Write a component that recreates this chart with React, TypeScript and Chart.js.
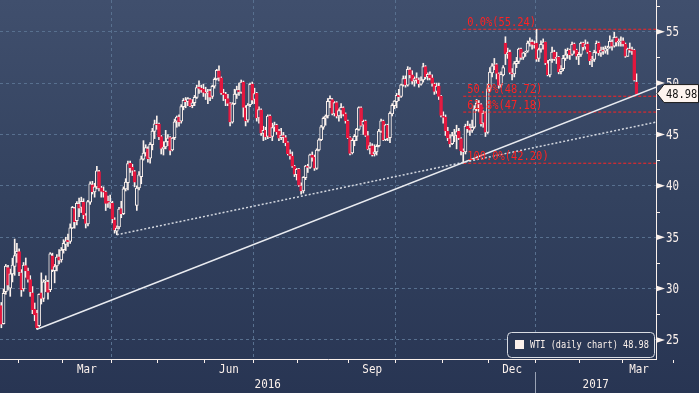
import React, { useEffect, useRef } from 'react';
import { Chart, registerables } from 'chart.js';
Chart.register(...registerables);

// Daily WTI candles, trading day index 0 = 20 Jan 2016 ... 286 = 9 Mar 2017
const openPx = [
  28.35,26.60,29.70,32.05,30.05,31.43,32.15,33.36,33.60,31.54,
  29.96,32.23,31.70,30.89,29.60,28.00,27.60,26.40,29.60,29.05,
  30.74,30.60,29.90,33.20,31.75,32.20,33.10,32.80,33.80,34.30,
  34.70,34.60,35.90,37.80,36.60,38.20,37.90,38.40,37.10,36.30,
  38.40,40.10,39.40,39.90,41.40,39.80,39.50,39.40,38.50,38.30,
  38.30,36.70,35.60,36.00,37.80,37.30,39.70,40.30,42.20,41.80,
  41.40,38.10,39.80,40.90,42.60,43.20,43.60,42.70,44.00,45.30,
  46.00,46.00,44.80,43.60,43.80,44.30,44.70,43.50,44.70,46.30,
  46.70,46.30,47.70,48.30,48.20,48.40,47.80,48.10,48.60,49.60,
  49.50,49.40,49.10,49.00,49.20,48.70,49.70,50.40,51.20,50.50,
  49.00,48.90,48.50,48.00,46.20,48.00,48.90,49.30,49.10,50.10,
  47.60,46.40,47.90,49.90,48.40,49.00,46.60,47.40,45.10,45.40,
  44.80,46.80,44.80,45.70,45.90,45.30,44.70,44.90,44.70,44.20,
  43.10,42.90,41.90,41.10,41.60,40.00,39.50,40.80,41.90,41.80,
  43.00,42.80,41.70,43.50,44.50,45.70,46.60,46.80,48.20,48.40,
  47.00,48.10,46.80,47.30,47.60,47.00,46.30,44.70,43.20,44.40,
  44.80,45.50,47.60,45.90,46.30,44.90,43.60,43.90,43.10,43.30,
  43.90,45.30,46.30,44.50,45.90,44.70,47.00,47.80,48.20,48.80,
  48.70,49.80,50.40,49.80,51.30,50.80,50.20,50.40,50.30,49.90,
  50.30,51.60,50.60,50.80,50.50,49.90,49.20,49.70,48.70,46.80,
  46.70,45.30,44.60,44.10,44.90,44.90,45.30,44.60,43.40,43.30,
  45.80,45.60,45.40,45.70,47.50,48.00,47.90,46.10,47.10,45.20,
  49.50,51.00,51.70,51.80,50.90,49.80,50.80,53.90,52.80,53.00,
  51.00,50.90,51.90,52.10,53.30,52.50,52.90,53.10,53.90,54.00,
  53.80,53.90,52.40,53.30,53.70,54.00,51.90,50.80,52.30,53.00,
  52.40,52.50,51.10,51.40,52.40,52.80,53.20,52.80,53.80,53.20,
  52.60,52.80,53.90,53.50,53.80,53.00,52.20,52.30,53.00,53.90,
  52.90,53.20,53.10,53.30,53.50,54.00,53.60,54.40,54.00,54.00,
  54.10,53.80,52.60,53.30,53.20,53.20,50.10,
];
const highPx = [
  28.65,29.97,32.35,32.27,31.90,32.96,34.82,34.40,33.86,31.85,
  32.54,32.98,32.00,31.26,30.20,28.60,27.89,29.50,31.53,30.86,
  31.25,30.80,33.50,33.45,32.35,33.30,33.80,34.00,34.76,35.00,
  35.30,36.30,38.00,37.90,38.48,38.80,38.90,38.75,37.30,38.60,
  40.40,40.44,40.25,41.90,41.50,39.96,39.90,39.50,39.00,39.10,
  38.50,36.90,36.10,37.90,38.50,39.90,40.70,42.40,42.40,42.10,
  41.50,40.00,41.40,42.90,44.40,44.00,43.80,44.20,45.60,46.40,
  46.80,46.10,44.90,44.30,45.40,45.00,44.80,44.70,46.50,46.80,
  46.90,47.90,48.50,48.60,48.60,48.50,48.40,48.80,49.80,50.21,
  49.80,49.90,49.60,49.40,49.40,49.80,50.50,51.34,51.67,50.60,
  49.40,49.10,48.90,48.10,48.10,49.40,49.70,50.00,50.30,50.20,
  47.80,48.00,50.00,50.10,49.50,49.10,47.70,47.50,45.80,45.70,
  46.90,46.90,46.10,46.20,46.00,45.50,45.60,45.20,44.90,44.30,
  43.50,43.30,42.00,41.70,41.70,40.30,40.90,42.00,42.10,43.10,
  43.30,43.00,43.60,44.60,45.90,46.70,46.90,48.50,48.75,48.50,
  48.20,48.20,47.50,48.00,47.70,47.10,46.40,44.80,44.60,45.00,
  45.60,47.70,47.70,46.40,46.40,45.30,44.20,44.10,44.00,44.00,
  45.50,46.50,46.40,46.00,46.00,47.20,48.00,48.30,49.00,49.40,
  49.90,50.70,50.70,51.60,51.50,51.20,50.60,51.00,50.50,50.60,
  51.93,51.70,51.00,51.10,50.80,50.00,50.00,50.00,48.80,47.20,
  46.90,45.70,45.00,45.20,45.50,45.90,45.60,44.70,43.60,46.00,
  46.30,46.00,46.40,47.80,48.40,48.30,48.00,47.30,47.20,49.90,
  51.50,51.90,52.40,51.90,51.00,51.10,51.70,54.51,53.40,53.20,
  51.40,52.10,52.50,53.40,53.40,53.00,53.10,54.10,54.40,54.20,
  54.10,55.24,53.40,54.10,54.30,54.00,52.20,52.30,53.50,53.20,
  53.00,52.60,51.70,52.70,53.30,53.40,53.30,54.00,53.90,53.30,
  53.00,54.00,54.00,54.20,54.00,53.10,52.60,53.20,54.10,54.00,
  53.50,53.50,53.60,53.60,54.60,54.20,54.94,54.50,54.30,54.50,
  54.40,53.90,53.40,53.90,53.50,53.30,50.90,
];
const lowPx = [
  26.19,26.55,29.45,29.85,29.25,30.65,31.30,32.55,31.26,29.25,
  29.75,31.10,30.62,29.25,27.56,26.87,26.05,26.30,28.50,28.74,
  29.71,28.98,29.70,31.65,30.56,31.71,32.40,32.57,33.45,33.71,
  34.10,34.40,35.85,35.88,36.20,37.00,37.40,36.80,35.90,36.10,
  38.20,39.21,38.90,39.70,39.50,38.90,38.90,37.60,37.90,37.80,
  36.40,35.40,35.24,35.80,36.90,37.20,39.50,39.60,41.30,41.00,
  39.90,37.61,39.60,40.20,42.50,42.90,42.30,42.20,43.50,44.60,
  45.50,44.50,43.10,43.00,43.60,43.90,43.00,43.40,44.50,45.70,
  45.80,46.10,47.40,47.60,47.80,47.70,47.60,47.80,48.50,49.00,
  49.10,48.70,48.40,48.00,48.30,48.50,49.50,50.30,50.20,48.90,
  48.30,47.80,47.80,45.83,46.10,47.90,48.50,48.80,49.00,46.70,
  45.83,46.20,47.70,48.00,48.00,46.30,46.10,44.90,44.40,44.50,
  44.60,44.70,44.40,45.30,45.00,44.40,44.50,44.20,43.90,43.00,
  42.60,41.80,40.90,40.57,39.95,39.19,39.30,40.60,41.30,41.70,
  42.40,41.50,41.60,43.40,44.40,45.50,45.90,46.60,47.60,46.90,
  46.80,46.60,46.30,46.60,46.80,46.10,44.60,43.00,43.10,43.90,
  44.40,45.40,45.80,45.00,44.80,43.50,43.10,42.90,42.90,43.00,
  43.80,45.20,44.40,44.40,44.40,44.20,46.80,47.50,47.60,48.30,
  48.60,49.70,49.60,49.70,50.50,49.90,49.70,50.00,49.60,49.80,
  50.10,50.40,50.30,50.30,49.70,48.90,49.00,48.40,46.70,46.10,
  44.90,44.40,43.80,44.00,44.30,43.60,44.50,43.00,42.20,43.10,
  45.20,44.90,45.20,45.60,47.30,47.20,45.80,45.70,44.80,45.10,
  49.20,50.60,51.30,50.40,49.50,49.60,50.70,51.80,52.40,50.90,
  50.30,50.60,51.50,51.90,52.30,52.30,52.60,53.00,53.60,53.30,
  53.40,52.11,52.10,53.00,53.30,51.80,50.70,50.60,52.00,52.20,
  51.90,50.90,50.90,51.20,52.20,52.40,52.30,52.70,52.90,52.30,
  51.80,52.60,53.20,53.30,52.90,51.80,51.60,52.10,52.90,52.70,
  52.60,52.80,52.90,52.80,53.40,53.20,53.50,53.60,53.60,53.60,
  53.60,52.50,52.60,53.00,52.80,50.20,48.98,
];
const closePx = [
  26.55,29.53,32.19,30.34,31.45,32.30,33.22,33.62,31.62,29.88,
  32.28,31.72,30.89,29.69,27.94,27.45,26.21,29.44,29.04,30.66,
  30.77,29.64,33.39,31.87,32.15,33.07,32.78,33.75,34.40,34.66,
  34.57,35.92,37.90,36.50,38.29,37.84,38.50,37.18,36.34,38.46,
  40.20,39.44,39.91,41.45,39.79,39.46,39.39,38.28,38.32,38.34,
  36.79,35.70,35.89,37.75,37.26,39.72,40.36,42.17,41.76,41.50,
  40.36,39.78,41.08,42.63,43.18,43.73,42.64,44.04,45.33,46.03,
  45.92,44.78,43.65,43.78,44.32,44.66,43.44,44.66,46.23,46.70,
  46.21,47.72,48.31,48.19,48.49,47.75,48.08,48.62,49.56,49.48,
  49.33,49.10,49.01,49.17,48.62,49.69,50.36,51.23,50.56,49.07,
  48.88,48.49,48.01,46.21,47.98,48.94,49.37,49.13,50.11,47.64,
  46.33,47.85,49.88,48.33,48.99,46.60,47.43,45.14,45.41,44.76,
  46.80,44.75,45.68,45.95,45.24,44.65,44.94,44.75,44.19,43.13,
  42.92,41.92,41.14,41.60,40.06,39.51,40.83,41.93,41.80,43.02,
  42.77,41.71,43.49,44.49,45.74,46.58,46.79,48.22,48.52,47.05,
  48.10,46.77,47.33,47.64,46.98,46.35,44.70,43.16,44.44,44.83,
  45.50,47.62,45.88,46.29,44.90,43.58,43.91,43.03,43.30,43.85,
  45.34,46.32,44.48,45.93,44.67,47.05,47.83,48.24,48.81,48.69,
  49.83,50.44,49.81,51.35,50.79,50.18,50.44,50.35,49.94,50.29,
  51.60,50.63,50.85,50.52,49.96,49.18,49.72,48.70,46.86,46.67,
  45.34,44.66,44.07,44.89,44.98,45.27,44.66,43.41,43.32,45.81,
  45.57,45.42,45.69,47.49,48.03,47.96,46.06,47.08,45.23,49.44,
  51.06,51.68,51.79,50.93,49.77,50.84,51.50,52.83,52.98,51.04,
  50.90,51.90,52.12,53.30,52.49,52.95,53.02,53.90,54.06,53.77,
  53.72,52.33,53.26,53.76,53.99,51.96,50.82,52.25,53.01,52.37,
  52.48,51.08,51.37,52.42,52.75,53.18,52.75,53.78,53.17,52.63,
  52.81,53.88,53.54,53.83,53.01,52.17,52.34,53.00,53.86,52.93,
  53.20,53.11,53.36,53.40,54.06,53.59,54.45,53.99,54.05,54.01,
  53.83,52.61,53.33,53.20,53.14,50.28,48.98,
];

// Calendar (trading-day index of first session of each month)
const monthStarts = [8, 28, 50, 71, 92, 114, 134, 157, 178, 199, 220, 241, 261, 280, 303];
const monthNames = ['Feb', 'Mar', 'Apr', 'May', 'Jun', 'Jul', 'Aug', 'Sep', 'Oct', 'Nov', 'Dec', 'Jan', 'Feb', 'Mar', 'Apr'];
const labeledMonths = ['Mar', 'Jun', 'Sep', 'Dec'];
const quarterStarts = [50, 114, 178, 241];
const yearLabels = ['2016', '2017'];
const yearBreak = 241;

// Y axis
const yTicks = [25, 30, 35, 40, 45, 50, 55];
const yMinorTicks = [27.5, 32.5, 37.5, 42.5, 47.5, 52.5, 57.5];

// Fibonacci retracement
const fibLevels = [55.24, 48.72, 47.18, 42.2];
const fibNames = ['0.0%', '50.0%', '61.8%', '100.0%'];
const fibStartIdx = 208;

// Trend lines (index, price)
const solidTrendX = [16, 294.8];
const solidTrendY = [26.05, 49.59];
const dottedTrendX = [52, 294.8];
const dottedTrendY = [35.24, 46.2];

const lastPrice = 48.98;
const seriesLabel = 'WTI (daily chart)';

const X_MIN = -0.61;
const X_MAX = 294.8;
const Y_MIN = 23.151;
const Y_MAX = 58.085;

const WHITE = '#fbf1ec';
const RED = '#e3173e';
const FIB_RED = '#ff2222';
const GRID = '#58708f';
const FONT = '"DejaVu Sans Mono", "Liberation Mono", monospace';

function bgGradient(chart: any) {
  if (!chart.$bgGrad) {
    const g = chart.ctx.createLinearGradient(0, 0, 0, chart.height);
    g.addColorStop(0, '#404f6d');
    g.addColorStop(0.5, '#33425f');
    g.addColorStop(1, '#283553');
    chart.$bgGrad = g;
  }
  return chart.$bgGrad;
}

function drawText(ctx: CanvasRenderingContext2D, text: string, x: number, y: number, size: number, sx: number, color: string, align: CanvasTextAlign = 'left', baseline: CanvasTextBaseline = 'middle') {
  ctx.save();
  ctx.font = `${size}px ${FONT}`;
  ctx.fillStyle = color;
  ctx.textAlign = align;
  ctx.textBaseline = baseline;
  ctx.translate(x, y);
  ctx.scale(sx, 1);
  ctx.fillText(text, 0, 0);
  ctx.restore();
}

const decorPlugin = {
  id: 'decor',
  beforeDraw(chart: any) {
    const { ctx, width, height } = chart;
    ctx.save();
    ctx.fillStyle = bgGradient(chart);
    ctx.fillRect(0, 0, width, height);
    ctx.restore();
  },
  afterDraw(chart: any) {
    const ctx: CanvasRenderingContext2D = chart.ctx;
    const xs = chart.scales.x;
    const ys = chart.scales.y;
    const area = chart.chartArea;

    // Fibonacci labels
    fibLevels.forEach((lvl, i) => {
      const x = xs.getPixelForValue(fibStartIdx) + 4;
      const y = ys.getPixelForValue(lvl) - 3;
      drawText(ctx, `${fibNames[i]}(${lvl.toFixed(2)})`, x, y, 13, 0.8, FIB_RED, 'left', 'alphabetic');
    });

    // Y axis markers and labels
    ctx.save();
    ctx.fillStyle = WHITE;
    ctx.strokeStyle = WHITE;
    yTicks.forEach((v) => {
      const y = ys.getPixelForValue(v);
      ctx.beginPath();
      ctx.moveTo(area.right, y - 3);
      ctx.lineTo(area.right + 9, y);
      ctx.lineTo(area.right, y + 3);
      ctx.closePath();
      ctx.fill();
    });
    ctx.lineWidth = 1;
    yMinorTicks.forEach((v) => {
      const y = Math.round(ys.getPixelForValue(v)) + 0.5;
      ctx.beginPath();
      ctx.moveTo(area.right, y);
      ctx.lineTo(area.right + 4, y);
      ctx.stroke();
    });
    ctx.restore();
    yTicks.forEach((v) => {
      const y = ys.getPixelForValue(v);
      drawText(ctx, String(v), area.right + 10, y + 1, 13.5, 0.8, WHITE);
    });

    // X axis month labels
    for (let i = 0; i < monthStarts.length - 1; i++) {
      if (!labeledMonths.includes(monthNames[i])) continue;
      const x0 = Math.max(area.left, xs.getPixelForValue(monthStarts[i] - 0.5));
      const x1 = Math.min(area.right, xs.getPixelForValue(monthStarts[i + 1] - 0.5));
      if (x1 - x0 < 10) continue;
      drawText(ctx, monthNames[i], (x0 + x1) / 2, 370, 13, 0.84, WHITE, 'center');
    }
    // Year labels
    const xb = xs.getPixelForValue(yearBreak - 0.5);
    drawText(ctx, yearLabels[0], (area.left + xb) / 2, 385, 13, 0.84, WHITE, 'center');
    drawText(ctx, yearLabels[1], (xb + area.right) / 2, 385, 13, 0.84, WHITE, 'center');
    ctx.save();
    ctx.strokeStyle = '#9aa3b5';
    ctx.lineWidth = 1;
    ctx.beginPath();
    ctx.moveTo(Math.round(xb) + 0.5, 372);
    ctx.lineTo(Math.round(xb) + 0.5, chart.height);
    ctx.stroke();
    ctx.restore();

    // Legend box
    ctx.save();
    ctx.beginPath();
    (ctx as any).roundRect(507.5, 332.5, 147, 25, 4);
    ctx.fillStyle = '#2a3754';
    ctx.fill();
    ctx.strokeStyle = '#d9dce3';
    ctx.lineWidth = 1;
    ctx.stroke();
    ctx.fillStyle = WHITE;
    ctx.fillRect(515, 340, 9, 9);
    ctx.restore();
    drawText(ctx, `${seriesLabel} ${lastPrice.toFixed(2)}`, 530, 345.5, 11, 0.78, WHITE);

    // Last price tag
    const ty = ys.getPixelForValue(lastPrice);
    const tx = area.right + 1;
    ctx.save();
    ctx.beginPath();
    ctx.moveTo(tx, ty);
    ctx.lineTo(tx + 7, ty - 9);
    ctx.lineTo(chart.width - 0.5, ty - 9);
    ctx.lineTo(chart.width - 0.5, ty + 9);
    ctx.lineTo(tx + 7, ty + 9);
    ctx.closePath();
    ctx.fillStyle = '#fdf4ef';
    ctx.fill();
    ctx.strokeStyle = '#1b1b1b';
    ctx.lineWidth = 1;
    ctx.stroke();
    ctx.restore();
    drawText(ctx, lastPrice.toFixed(2), tx + 9, ty + 1, 13, 0.8, '#111111');
  },
};

export default function App() {
  const ref = useRef<HTMLCanvasElement>(null);
  useEffect(() => {
    const canvas = ref.current;
    if (!canvas) return;
    const isUp = (i: number) => closePx[i] >= openPx[i];
    const monthBoundaries = monthStarts.map((s) => s - 0.5);
    const quarterBoundaries = quarterStarts.map((s) => s - 0.5);

    const datasets: any[] = [
      {
        type: 'line',
        data: solidTrendX.map((x, i) => ({ x, y: solidTrendY[i] })),
        borderColor: '#e9ebf0',
        borderWidth: 1.5,
        pointRadius: 0,
        order: 0,
      },
      {
        type: 'line',
        data: dottedTrendX.map((x, i) => ({ x, y: dottedTrendY[i] })),
        borderColor: '#d4d8e0',
        borderWidth: 1.5,
        borderDash: [2, 2],
        pointRadius: 0,
        order: 0,
      },
      ...fibLevels.map((lvl) => ({
        type: 'line',
        data: [
          { x: fibStartIdx, y: lvl },
          { x: X_MAX, y: lvl },
        ],
        borderColor: FIB_RED,
        borderWidth: 1,
        borderDash: [3, 2],
        pointRadius: 0,
        order: 0,
      })),
      {
        type: 'bar',
        data: closePx.map((c, i) => ({ x: i, y: [openPx[i], c] })),
        barThickness: 3,
        grouped: false,
        borderWidth: 1,
        borderSkipped: false,
        minBarLength: 1,
        borderColor: (c: any) => (isUp(c.dataIndex) ? WHITE : RED),
        backgroundColor: (c: any) => (isUp(c.dataIndex) ? bgGradient(c.chart) : RED),
        order: 1,
      },
      {
        type: 'bar',
        data: highPx.map((h, i) => ({ x: i, y: [lowPx[i], h] })),
        barThickness: 1,
        grouped: false,
        borderWidth: 0,
        backgroundColor: WHITE,
        order: 2,
      },
    ];

    const chart = new Chart(canvas, {
      type: 'bar',
      data: { datasets },
      options: {
        responsive: false,
        animation: false,
        events: [],
        layout: { padding: 0 },
        plugins: { legend: { display: false }, tooltip: { enabled: false } },
        scales: {
          x: {
            type: 'linear',
            min: X_MIN,
            max: X_MAX,
            offset: false,
            grid: {
              offset: false,
              color: (c: any) => (c.tick && quarterBoundaries.includes(c.tick.value) ? GRID : 'rgba(0,0,0,0)'),
              lineWidth: 1,
              drawTicks: true,
              tickLength: 4,
              tickColor: WHITE,
            },
            border: { display: true, color: WHITE, width: 1, dash: [3, 3] },
            ticks: { display: false },
            afterBuildTicks: (s: any) => {
              s.ticks = monthBoundaries.map((v) => ({ value: v }));
            },
            afterFit: (s: any) => {
              s.height = 34;
              s.paddingLeft = 0;
              s.paddingRight = 0;
            },
          },
          y: {
            type: 'linear',
            position: 'right',
            min: Y_MIN,
            max: Y_MAX,
            grid: { color: GRID, drawTicks: false, lineWidth: 1 },
            border: { display: true, color: WHITE, width: 1, dash: [3, 3] },
            ticks: { display: false },
            afterBuildTicks: (s: any) => {
              s.ticks = yTicks.map((v) => ({ value: v }));
            },
            afterFit: (s: any) => {
              s.width = 43;
              s.paddingTop = 0;
              s.paddingBottom = 0;
            },
          },
        },
      } as any,
      plugins: [decorPlugin],
    });
    return () => chart.destroy();
  }, []);

  return (
    <div style={{ position: 'fixed', left: 0, top: 0, width: 699, height: 393, overflow: 'hidden' }}>
      <canvas ref={ref} width={699} height={393} style={{ display: 'block', width: 699, height: 393 }} />
    </div>
  );
}
